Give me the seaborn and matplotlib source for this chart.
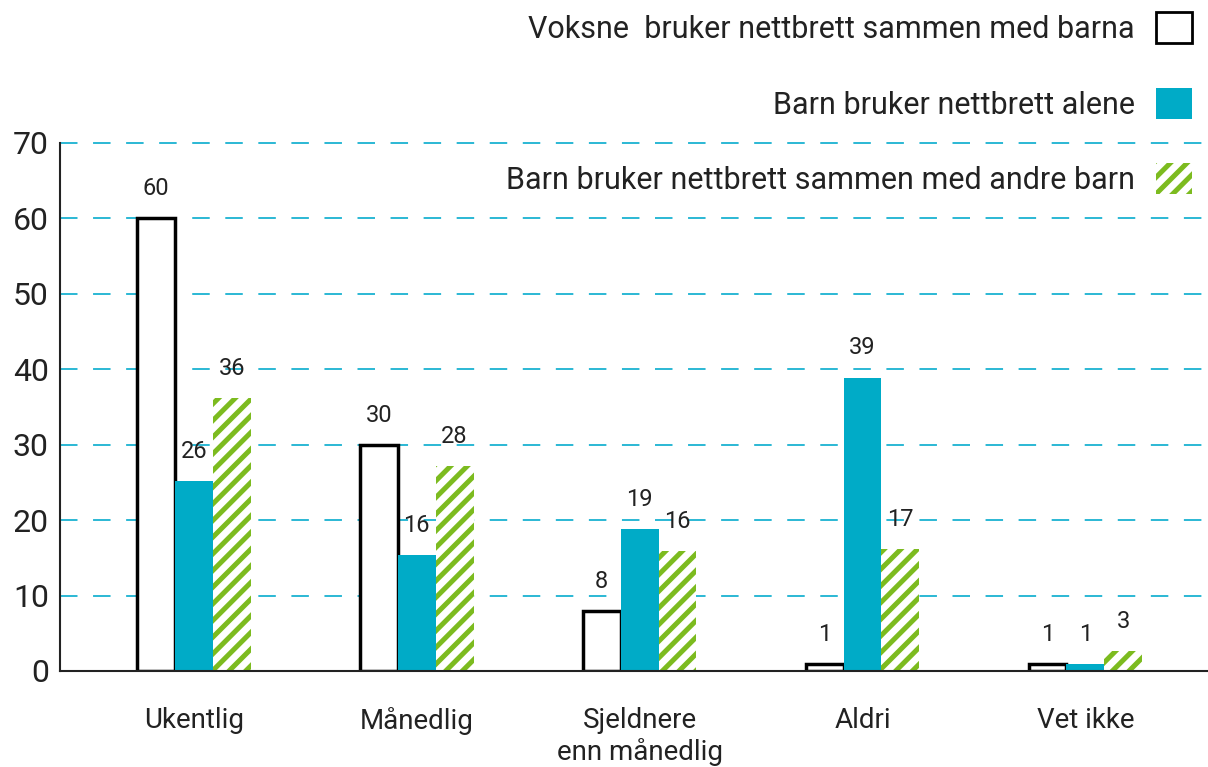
import pandas as pd
import matplotlib.pyplot as plt
import seaborn as sns
from matplotlib.patches import Patch

sns.set_style("white")
plt.rcParams["font.family"] = ["Roboto", "DejaVu Sans"]
plt.rcParams["hatch.linewidth"] = 3.6

# Data
kategorier = ["Ukentlig", "Månedlig", "Sjeldnere\nenn månedlig", "Aldri", "Vet ikke"]
serier = ["Voksne  bruker nettbrett sammen med barna",
          "Barn bruker nettbrett alene",
          "Barn bruker nettbrett sammen med andre barn"]
voksne = [60, 30, 8, 0.9, 0.9]
alene = [25.2, 15.4, 18.8, 38.9, 0.9]
andre_barn = [36.2, 27.2, 15.9, 16.2, 2.6]
etiketter = [
    ["60", "30", "8", "1", "1"],
    ["26", "16", "19", "39", "1"],
    ["36", "28", "16", "17", "3"],
]

blaa = "#00abc7"
groenn = "#7cbb1f"
grid_farge = "#2bb8d4"
tekst = "#222222"

df = pd.DataFrame({
    "kategori": kategorier * 3,
    "serie": [s for s in serier for _ in kategorier],
    "verdi": voksne + alene + andre_barn,
})

fig = plt.figure(figsize=(12.08, 7.67), dpi=100)
ax = fig.add_axes([0.0497, 0.1252, 0.9503, 0.6884])

sns.barplot(data=df, x="kategori", y="verdi", hue="serie", hue_order=serier,
            palette=["white", blaa, groenn], width=0.51, gap=0, saturation=1,
            legend=False, ax=ax)

# stil per serie
for i, cont in enumerate(ax.containers):
    for bar in cont:
        if i == 0:
            bar.set_facecolor("white")
            bar.set_edgecolor("black")
            bar.set_linewidth(2.5)
        elif i == 1:
            bar.set_facecolor(blaa)
            bar.set_edgecolor(blaa)
            bar.set_linewidth(0)
        else:
            bar.set_facecolor("white")
            bar.set_edgecolor(groenn)
            bar.set_hatch("//")
            bar.set_linewidth(0)
    ax.bar_label(cont, labels=etiketter[i], padding=13, fontsize=17, color=tekst)

ax.set_ylim(0, 70)
ax.set_xlim(-0.6, 4.55)
ax.set_yticks(range(0, 71, 10))
ax.set_xlabel("")
ax.set_ylabel("")
ax.tick_params(axis="y", labelsize=23, pad=8, length=0, labelcolor=tekst)
ax.tick_params(axis="x", labelsize=20, pad=26, length=0, labelcolor=tekst)

for y in range(10, 71, 10):
    ax.axhline(y, color=grid_farge, linestyle=(0, (9, 8)), linewidth=1.4,
               zorder=0, clip_on=False)

sns.despine(ax=ax, top=True, right=True)
for side in ["left", "bottom"]:
    ax.spines[side].set_color(tekst)
    ax.spines[side].set_linewidth(1.5)

handles = [
    Patch(facecolor="white", edgecolor="black", linewidth=2),
    Patch(facecolor=blaa, edgecolor=blaa, linewidth=0),
    Patch(facecolor="white", edgecolor=groenn, hatch="//", linewidth=0),
]
leg = fig.legend(handles, serier, loc="upper right", bbox_to_anchor=(0.987, 0.984),
                 markerfirst=False, frameon=False, fontsize=22,
                 handlelength=1.18, handleheight=1.18, labelspacing=1.43,
                 handletextpad=0.7, borderpad=0, borderaxespad=0)
for t in leg.get_texts():
    t.set_color(tekst)

fig.savefig("out.png", dpi=100)
